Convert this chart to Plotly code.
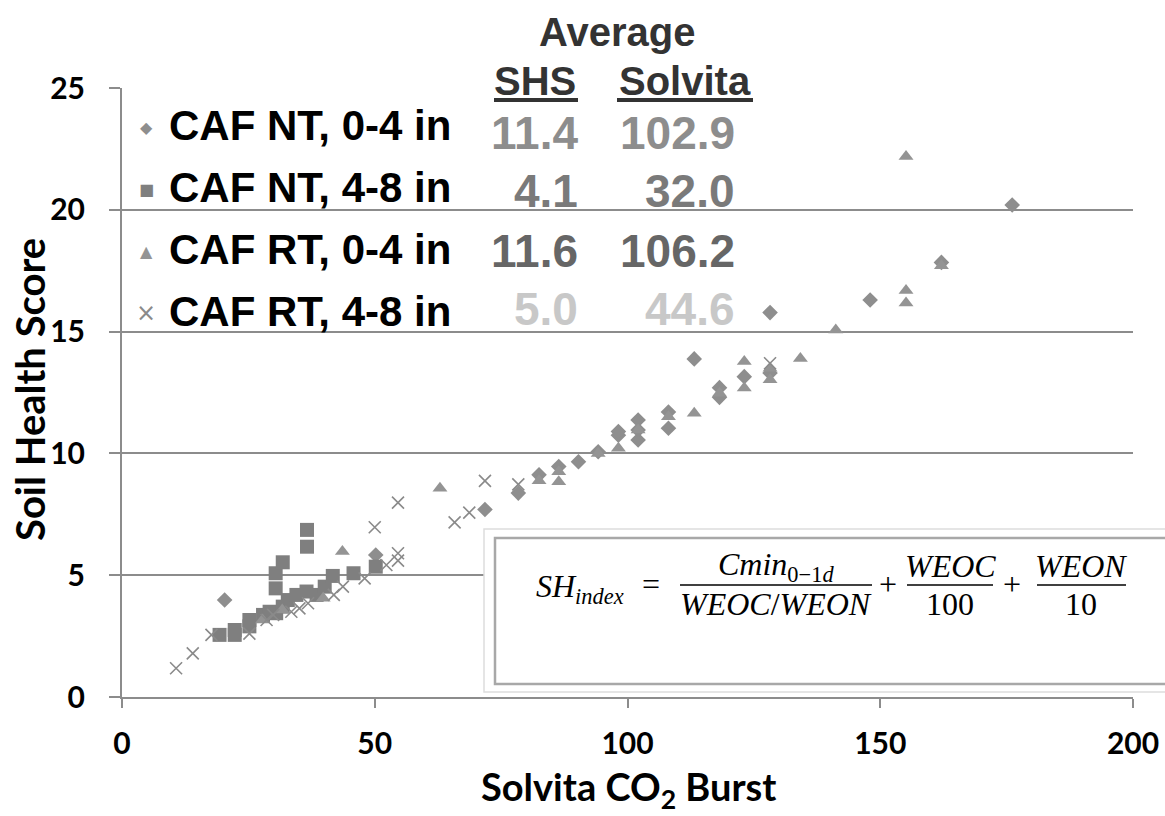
import plotly.graph_objects as go

# ---------------- data ----------------
series_names = ["CAF NT, 0-4 in", "CAF NT, 4-8 in", "CAF RT, 0-4 in", "CAF RT, 4-8 in"]
avg_shs = ["11.4", "4.1", "11.6", "5.0"]
avg_solvita = ["102.9", "32.0", "106.2", "44.6"]

nt04_x = [20.3, 50.2, 71.8, 78.4, 82.5, 86.4, 90.3, 94.2, 98.2, 98.2, 102.1, 102.1, 102.1,
          108.1, 108.1, 113.2, 118.2, 118.2, 123.1, 128.2, 128.2, 148.0, 162.1, 176.1]
nt04_y = [3.98, 5.83, 7.70, 8.37, 9.12, 9.46, 9.66, 10.07, 10.75, 10.90, 10.55, 10.96, 11.37,
          11.03, 11.70, 13.88, 12.30, 12.70, 13.15, 13.30, 15.78, 16.30, 17.84, 20.20]

nt48_x = [19.3, 22.3, 22.3, 25.2, 25.2, 27.9, 29.2, 30.5, 30.4, 30.4, 31.8, 31.8, 32.8, 34.5,
          36.5, 36.6, 36.6, 38.5, 40.1, 41.7, 45.8, 50.2]
nt48_y = [2.55, 2.55, 2.75, 2.90, 3.16, 3.37, 3.50, 3.44, 4.46, 5.08, 3.71, 5.53, 3.98, 4.19,
          4.33, 6.17, 6.86, 4.19, 4.53, 4.97, 5.08, 5.35]

rt04_x = [27.8, 31.7, 39.8, 43.6, 62.9, 82.5, 86.4, 86.4, 94.2, 98.2, 102.1, 108.1, 113.2,
          118.2, 123.1, 123.1, 128.2, 128.2, 134.2, 141.2, 155.1, 155.1, 155.1, 162.1]
rt04_y = [3.16, 3.57, 4.05, 5.97, 8.57, 8.88, 8.84, 9.25, 10.00, 10.21, 10.96, 11.50, 11.65,
          12.47, 12.68, 13.77, 13.02, 13.50, 13.90, 15.07, 16.17, 16.69, 22.19, 17.70]

rt48_x = [10.7, 14.0, 17.7, 25.2, 28.6, 29.9, 33.5, 35.1, 36.8, 41.9, 43.7, 48.0, 52.3, 54.6,
          54.6, 50.0, 54.6, 65.8, 68.7, 71.8, 78.4, 128.2]
rt48_y = [1.18, 1.79, 2.55, 2.60, 3.16, 3.37, 3.50, 3.64, 3.85, 4.19, 4.53, 4.87, 5.42, 5.60,
          5.90, 6.97, 7.98, 7.17, 7.57, 8.87, 8.73, 13.70]

x_ticks = [0, 50, 100, 150, 200]
y_ticks = [0, 5, 10, 15, 20, 25]

# ---------------- layout helpers ----------------
W, H = 1165, 816
L, R, T, B = 122, 32, 88, 119
PW, PH = W - L - R, H - T - B


def px(x):
    return (x - L) / PW


def py(y):
    return (H - B - y) / PH


GRID = "#8c8c8c"
TICKFONT = dict(family="Lato, Open Sans, sans-serif", size=30, color="black", weight="bold")

fig = go.Figure()
fig.add_trace(go.Scatter(x=nt04_x, y=nt04_y, mode="markers", name=series_names[0],
                         marker=dict(symbol="diamond", size=12, color="#8e8e8e")))
fig.add_trace(go.Scatter(x=nt48_x, y=nt48_y, mode="markers", name=series_names[1],
                         marker=dict(symbol="square", size=14, color="#7f7f7f")))
fig.add_trace(go.Scatter(x=rt04_x, y=rt04_y, mode="markers", name=series_names[2],
                         marker=dict(symbol="triangle-up", size=13, color="#949494")))
fig.add_trace(go.Scatter(x=rt48_x, y=rt48_y, mode="markers", name=series_names[3],
                         marker=dict(symbol="x-thin", size=12, color="#8a8a8a",
                                     line=dict(color="#8a8a8a", width=1.6))))

annotations = []
shapes = []

# axis titles
annotations.append(dict(text="Solvita CO<sub>2</sub> Burst", xref="paper", yref="paper",
                        x=px(628), y=py(789), xanchor="center", yanchor="middle", showarrow=False,
                        font=dict(family="Lato, Open Sans, sans-serif", size=38, color="black",
                                  weight="bold")))
annotations.append(dict(text="Soil Health Score", xref="paper", yref="paper",
                        x=px(30), y=py(390), xanchor="center", yanchor="middle", showarrow=False,
                        textangle=-90,
                        font=dict(family="Lato, Open Sans, sans-serif", size=40, color="black",
                                  weight="bold")))

# table header
HFONT = dict(family="Liberation Sans, Arial, sans-serif", size=40, color="#333333", weight="bold")
annotations.append(dict(text="Average", xref="paper", yref="paper", x=px(617), y=py(32),
                        xanchor="center", yanchor="middle", showarrow=False, font=HFONT))
annotations.append(dict(text="SHS", xref="paper", yref="paper", x=px(578), y=py(81),
                        xanchor="right", yanchor="middle", showarrow=False, font=HFONT))
annotations.append(dict(text="Solvita", xref="paper", yref="paper", x=px(753), y=py(81),
                        xanchor="right", yanchor="middle", showarrow=False, font=HFONT))
for x0, x1 in [(494, 578), (617, 753)]:
    shapes.append(dict(type="line", xref="paper", yref="paper", x0=px(x0), x1=px(x1),
                       y0=py(100), y1=py(100), line=dict(color="#333333", width=4)))

# legend rows
row_y = [125, 187, 249, 311]
num_dy = [8, 4, 2, -2]
num_colors = ["#8d8d8d", "#7a7a7a", "#666666", "#c8c8c8"]
marker_syms = ["◆", "■", "▲", "×"]
marker_sizes = [16, 16, 16, 24]
marker_colors = ["#8e8e8e", "#7f7f7f", "#949494", "#8a8a8a"]
for i, name in enumerate(series_names):
    yy = row_y[i]
    annotations.append(dict(text=marker_syms[i], xref="paper", yref="paper", x=px(146),
                            y=py(yy + 2), xanchor="center", yanchor="middle", showarrow=False,
                            font=dict(family="DejaVu Sans", size=marker_sizes[i],
                                      color=marker_colors[i])))
    annotations.append(dict(text=name, xref="paper", yref="paper", x=px(167), y=py(yy),
                            xanchor="left", yanchor="middle", showarrow=False,
                            font=dict(family="Liberation Sans, Arial, sans-serif", size=42,
                                      color="black", weight="bold")))
    nf = dict(family="Liberation Sans, Arial, sans-serif", size=46, color=num_colors[i],
              weight="bold")
    annotations.append(dict(text=avg_shs[i], xref="paper", yref="paper", x=px(580),
                            y=py(yy + num_dy[i]), xanchor="right", yanchor="middle",
                            showarrow=False, font=nf))
    annotations.append(dict(text=avg_solvita[i], xref="paper", yref="paper", x=px(737),
                            y=py(yy + num_dy[i]), xanchor="right", yanchor="middle",
                            showarrow=False, font=nf))

# formula box
shapes.append(dict(type="rect", xref="paper", yref="paper", x0=px(484), x1=px(1175),
                   y0=py(692), y1=py(529), fillcolor="white",
                   line=dict(color="#dddddd", width=1.5), layer="above"))
shapes.append(dict(type="rect", xref="paper", yref="paper", x0=px(495), x1=px(1175),
                   y0=py(684), y1=py(538), fillcolor="white",
                   line=dict(color="#a8a8a8", width=2.5), layer="above"))

FF = dict(family="Liberation Serif, Times New Roman, serif", size=32, color="black")


def ftext(text, x, y, anchor="center"):
    annotations.append(dict(text=text, xref="paper", yref="paper", x=px(x), y=py(y),
                            xanchor=anchor, yanchor="middle", showarrow=False, font=FF))


ftext("<i>SH</i><sub><i>index</i></sub>", 534, 588, "left")
ftext("=", 651, 584)
ftext("<i>Cmin</i><sub>0−1<i>d</i></sub>", 776, 566)
ftext("<i>WEOC</i>/<i>WEON</i>", 776, 604)
ftext("+", 888, 584)
ftext("<i>WEOC</i>", 950, 566)
ftext("100", 950, 604)
ftext("+", 1012, 584)
ftext("<i>WEON</i>", 1081, 566)
ftext("10", 1081, 604)
for x0, x1 in [(680, 872), (907, 993), (1037, 1126)]:
    shapes.append(dict(type="line", xref="paper", yref="paper", x0=px(x0), x1=px(x1),
                       y0=py(585), y1=py(585), line=dict(color="black", width=1.5),
                       layer="above"))

fig.update_layout(
    width=W, height=H,
    margin=dict(l=L, r=R, t=T, b=B, autoexpand=False),
    paper_bgcolor="white", plot_bgcolor="white",
    showlegend=False,
    annotations=annotations,
    shapes=shapes,
    xaxis=dict(range=[0, 200], tickvals=x_ticks, showgrid=False, zeroline=False,
               showline=True, linecolor=GRID, linewidth=2, ticks="outside", ticklen=9,
               tickcolor=GRID, tickwidth=2, tickfont=TICKFONT, ticklabelstandoff=10,
               fixedrange=True),
    yaxis=dict(range=[0, 25], tickvals=y_ticks, showgrid=True, gridcolor=GRID, gridwidth=2,
               zeroline=False, showline=True, linecolor=GRID, linewidth=2, ticks="outside",
               ticklen=11, tickcolor=GRID, tickwidth=2, tickfont=TICKFONT,
               ticklabelstandoff=18, fixedrange=True),
)

fig.write_html("out.html")
